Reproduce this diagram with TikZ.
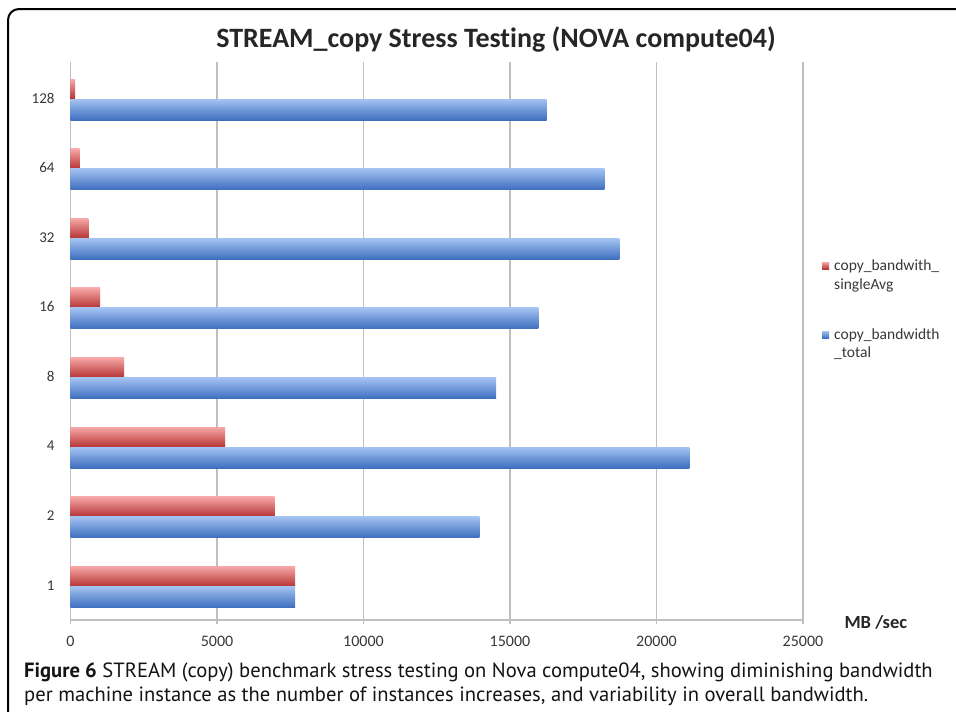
\documentclass[tikz,border=0pt]{standalone}
\usepackage{fontspec}
\setmainfont{Carlito}[RawFeature={-liga;-clig;-calt;-dlig}]
\newfontfamily\capfont{PT Sans}[RawFeature={-liga;-clig}]
\begin{document}
\begin{tikzpicture}[x=1pt,y=-1pt,
  grid/.style={draw=black!25, line width=1.1pt},
  bluebar/.style={top color=blueT, middle color=blueM, bottom color=blueB, draw=none},
  redbar/.style={top color=redT, middle color=redM, bottom color=redB, draw=none},
  ticklab/.style={font=\fontsize{16}{18}\selectfont, text=black!78},
  catlab/.style={font=\fontsize{15}{17}\selectfont, text=black!78, anchor=east},
  leglab/.style={font=\fontsize{15.5}{18.5}\selectfont, text=black!78, anchor=west, align=left, inner sep=0pt},
  caplab/.style={font=\capfont\fontsize{20.6}{24}\selectfont, text=black!92, anchor=west, inner sep=0pt}]
\definecolor{blueT}{HTML}{A4C3F2}
\definecolor{blueM}{HTML}{6F9DE2}
\definecolor{blueB}{HTML}{3E6FBF}
\definecolor{redT}{HTML}{F8A8A8}
\definecolor{redM}{HTML}{E26A6A}
\definecolor{redB}{HTML}{B53434}
\useasboundingbox (0,0) rectangle (956,712);
\fill[white] (0,0) rectangle (956,712);
% frame
\draw[line width=2pt, rounded corners=11pt] (8,716) -- (8,9) -- (962,9);
% title
\node[font=\fontsize{28}{32}\selectfont\bfseries, text=black!85] (title) at (496,39) {STREAM\_copy Stress Testing (NOVA compute04)};
% gridlines and tick labels
\foreach \xx/\lab [count=\i] in {70.5/0,217/5000,363.5/10000,510/15000,656.5/20000,803/25000}{
  \draw[grid] (\xx,62) -- (\xx,624);
  \node[ticklab] (t\i) at (\xx,641) {\lab};
}
\draw[grid] (70.5,620) -- (803,620);
% bars
\foreach \r/\b/\lab [count=\k from 0] in {75/546.7/128, 79.3/604.3/64, 88.3/619.3/32, 100/538.3/16, 124/496/8, 225/689.3/4, 274.3/479.3/2, 295/295/1}{
  \pgfmathsetmacro{\yb}{99+\k*69.6}
  \path[redbar] (70.5,\yb-20) rectangle (\r,\yb);
  \path[bluebar] (70.5,\yb) rectangle (\b,\yb+21);
  \node[catlab] (c\k) at (58,\yb-1) {\lab};
}
% axis unit
\node[font=\fontsize{18.5}{22}\selectfont\bfseries, text=black!85, anchor=west] (unit) at (841,622) {MB /sec};
% legend
\path[redbar] (822,262) rectangle (829,269);
\node[leglab] (l1) at (834,276) {copy\_bandwith\_\\singleAvg};
\path[bluebar] (822,331) rectangle (829,338);
\node[leglab] (l2) at (834,344) {copy\_bandwidth\\\_total};
% caption
\node[caplab] (cap1) at (24,672) {\textbf{Figure 6} STREAM (copy) benchmark stress testing on Nova compute04, showing diminishing bandwidth};
\node[caplab] (cap2) at (24,696) {per machine instance as the number of instances increases, and variability in overall bandwidth.};
\end{tikzpicture}
\end{document}
